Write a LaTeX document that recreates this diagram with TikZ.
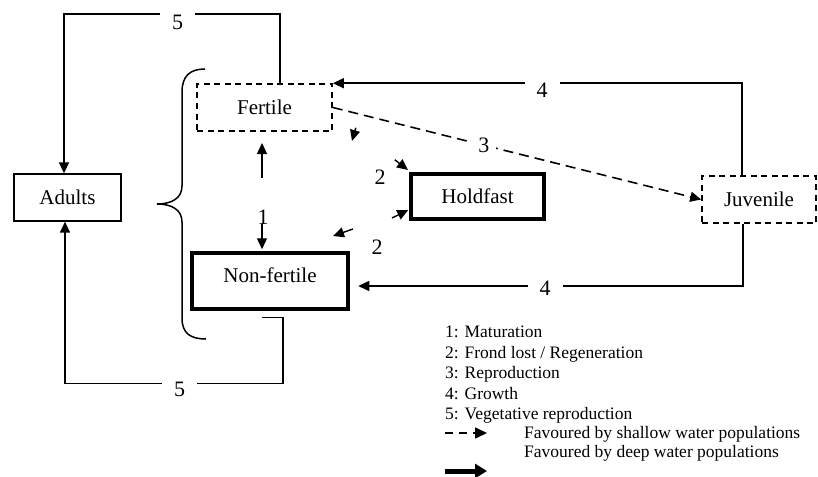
\documentclass[tikz,border=0pt]{standalone}
\usepackage{fontspec}
\setmainfont{Liberation Serif}
\usetikzlibrary{arrows.meta,calc}
\begin{document}
\begin{tikzpicture}[x=1pt,y=-1pt,
  box/.style={draw, line width=1.3pt, rectangle, inner sep=0pt, text height=14pt, text depth=0pt, font=\fontsize{21}{25}\selectfont},
  dbox/.style={box, dash pattern=on 6pt off 4.5pt, line width=1.6pt},
  tbox/.style={box, line width=4.5pt},
  conn/.style={line width=1.4pt},
  arr/.style={conn, -{Triangle[length=11pt,width=10pt]}},
  dconn/.style={arr, dash pattern=on 10pt off 6pt, line width=1.6pt},
  lbl/.style={font=\fontsize{22}{26}\selectfont, fill=white, inner xsep=12pt, inner ysep=4pt},
  nlbl/.style={font=\fontsize{22}{26}\selectfont, inner sep=0pt},
  lgd/.style={font=\fontsize{17.5}{20.5}\selectfont, anchor=base west, inner sep=0pt}
]
\useasboundingbox (0,0) rectangle (818,476);

% boxes
\node[box, minimum width=107pt, minimum height=47pt] (adults) at (67.5,197.5) {Adults};
\node[dbox, minimum width=135pt, minimum height=47pt] (fertile) at (264.5,107.5) {Fertile};
\node[tbox, minimum width=156pt, minimum height=56pt, text depth=12pt] (nonfert) at (270,281) {Non-fertile};
\node[tbox, minimum width=133pt, minimum height=45pt] (holdfast) at (477.5,196.5) {Holdfast};
\node[dbox, minimum width=114pt, minimum height=47pt] (juvenile) at (759,199.5) {Juvenile};

% brace
\draw[line width=1.5pt] (205,69) .. controls (190,69) and (182,76) .. (182,92) -- (182,186)
  .. controls (182,198) and (172,204) .. (157,204)
  .. controls (172,204) and (182,210) .. (182,222) -- (182,318)
  .. controls (182,333) and (190,339) .. (206,339);

% 5 top
\draw[arr] ([xshift=15.5pt]fertile.north) -- ++(0,-69.2) -| ([xshift=-3.5pt]adults.north);
\node[lbl] (l5t) at (177.5,22.5) {5};

% 5 bottom
\coordinate (b5) at ([shift={(-8,6)}]nonfert.south);
\draw[arr] (b5) -- ++(21,0) -- ++(0,66) -| ([xshift=-2.5pt]adults.south);
\node[lbl] (l5b) at (179.5,389) {5};

% 4 top
\draw[arr] ([xshift=-17pt]juvenile.north) |- (fertile.north east);
\node[lbl] (l4t) at (542,90) {4};

% 4 bottom
\draw[arr, shorten >=8pt] ([xshift=-16pt]juvenile.south) |- ([yshift=-5pt]nonfert.east);
\node[lbl] (l4b) at (545,288) {4};

% 3 dashed
\draw[dconn] (fertile.east) -- (juvenile.west) node[lbl, pos=0.41, inner xsep=7pt, inner ysep=2pt] (l3) {3};

% 1
\node[nlbl] (one) at (263,217) {1};
\draw[arr, shorten >=1.5pt] ([xshift=-1pt]one.south) -- ([xshift=-1pt]nonfert.north -| one.south);
\draw[arr] ([shift={(-1,-31.5)}]one.north) -- ([shift={(-2.5,11.2)}]fertile.south);

% 2 arrows
\draw[arr] ([shift={(-14,-12)}]holdfast.north west) -- ([shift={(-0.75,-1.75)}]holdfast.north west);
\draw[arr] ([shift={(-16.75,21.5)}]holdfast.west) -- ([shift={(-0.5,13.5)}]holdfast.west);
\draw[arr] ([shift={(2.75,-21.75)}]nonfert.north east) -- ([shift={(-17.25,-14.75)}]nonfert.north east);
\draw[arr] ([shift={(23,-4)}]fertile.south east) -- ([shift={(19.2,9.2)}]fertile.south east);
\node[nlbl] (two1) at (380,177) {2};
\node[nlbl] (two2) at (377,247) {2};

% legend
\node[lgd] (lg1) at (445,337.5) {1: Maturation};
\node[lgd] (lg2) at (445,358) {2: Frond lost / Regeneration};
\node[lgd] (lg3) at (445,378.5) {3: Reproduction};
\node[lgd] (lg4) at (445,399) {4: Growth};
\node[lgd] (lg5) at (445,419) {5: Vegetative reproduction};
\node[lgd] (lgs) at (524,438) {Favoured by shallow water populations};
\node[lgd] (lgd) at (524,457) {Favoured by deep water populations};
\coordinate (sa) at (445,433);
\draw[line width=1.6pt, dash pattern=on 8pt off 6pt, -{Triangle[length=12pt,width=11pt]}] (sa) -- ++(42,0);
\coordinate (da) at (445,471);
\draw[line width=5pt, -{Triangle[length=12pt,width=14pt]}] (da) -- ++(42,0);
\end{tikzpicture}
\end{document}
